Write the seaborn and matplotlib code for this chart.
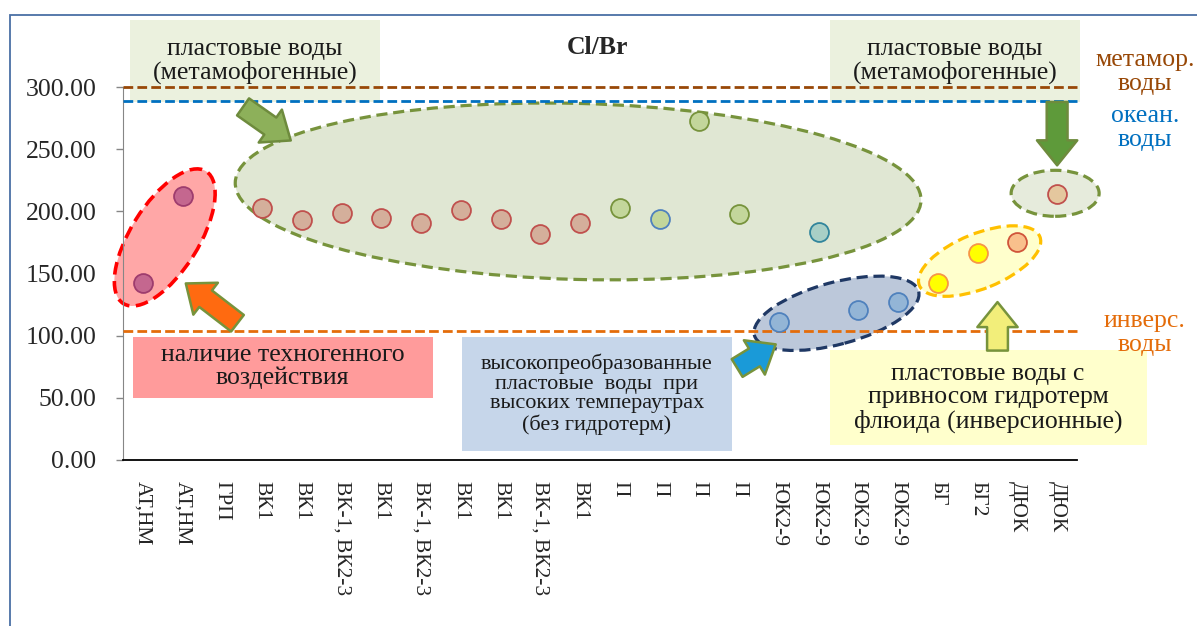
import numpy as np
import pandas as pd
import matplotlib.pyplot as plt
import matplotlib.transforms as mtransforms
from matplotlib.patches import Ellipse, Rectangle, FancyArrowPatch
import seaborn as sns

# Cl/Br по пробам
categories = ["АТ,НМ", "АТ,НМ", "ГРП", "ВК1", "ВК1", "ВК-1, ВК2-3", "ВК1", "ВК-1, ВК2-3",
              "ВК1", "ВК1", "ВК-1, ВК2-3", "ВК1", "П", "П", "П", "П",
              "ЮК2-9", "ЮК2-9", "ЮК2-9", "ЮК2-9", "БГ", "БГ2", "ДЮК", "ДЮК"]
cl_br = [142, 212, np.nan, 202.5, 193, 199, 195, 190.5, 201, 194, 182, 191,
         203, 194, 273, 198, 111, 183, 121, 127, 142, 166.5, 175, 214]
y_ticks = [0, 50, 100, 150, 200, 250, 300]
metamorphic_level = 300
ocean_level = 289
inversion_level = 104

# цвета точек (заливка / контур)
fills = ["#C4678F", "#C4678F", "#FFFFFF", "#D4AF9B", "#D4AF9B", "#D4AF9B", "#D4AF9B", "#D4AF9B",
         "#D4AF9B", "#D4AF9B", "#D4AF9B", "#D4AF9B", "#C3D69B", "#C3D69B", "#C3D69B", "#C3D69B",
         "#93B5D6", "#A8CFC6", "#93B5D6", "#93B5D6", "#FFFF00", "#FFFF00", "#F9C08C", "#E4C79E"]
edges = ["#9E3C6E", "#9E3C6E", "#FFFFFF", "#C0504D", "#C0504D", "#C0504D", "#C0504D", "#C0504D",
         "#C0504D", "#C0504D", "#C0504D", "#C0504D", "#77933C", "#4F81BD", "#77933C", "#77933C",
         "#4F81BD", "#31859C", "#4F81BD", "#4F81BD", "#F79646", "#F79646", "#D0553A", "#C0504D"]

df = pd.DataFrame({"pos": np.arange(len(categories)), "label": categories,
                   "value": cl_br, "fill": fills, "edge": edges})

sns.set_style("white")
plt.rcParams["font.family"] = ["Liberation Serif", "DejaVu Serif"]

fig = plt.figure(figsize=(11.97, 6.26), dpi=100)
ax = fig.add_axes([123 / 1197, 166 / 626, 954 / 1197, 373 / 626])

for (fc, ec), grp in df.dropna().groupby(["fill", "edge"]):
    sns.scatterplot(data=grp, x="pos", y="value", color=fc, edgecolor=ec,
                    linewidth=1.3, s=185, ax=ax, zorder=5, legend=False)

# уровни
ax.axhline(metamorphic_level, color="#984807", ls=(0, (3.5, 1.5)), lw=2, zorder=4, clip_on=False)
ax.axhline(ocean_level, color="#0070C0", ls=(0, (3.5, 1.5)), lw=2, zorder=4, clip_on=False)
ax.axhline(inversion_level, color="#E46C0A", ls=(0, (3.5, 1.5)), lw=2, zorder=4, clip_on=False)

ax.set_xlim(-0.5, len(categories) - 0.5)
ax.set_ylim(0, 300)
ax.set_yticks(y_ticks)
ax.set_yticklabels([f"{v:.2f}" for v in y_ticks], fontsize=18.5)
ax.set_xticks(df["pos"])
ax.set_xticklabels(categories, rotation=-90, fontsize=15.5, va="top", ha="center")
ax.set_xticks(np.arange(-0.5, len(categories)), minor=True)
ax.tick_params(axis="x", which="major", length=0, pad=15)
ax.tick_params(axis="x", which="minor", direction="inout", length=9, width=1.3, color="black")
ax.tick_params(axis="y", direction="out", length=5, width=1, color="#868686", pad=14, left=True)
ax.set_xlabel("")
ax.set_ylabel("")
for side in ["top", "right"]:
    ax.spines[side].set_visible(False)
ax.spines["left"].set_color("#868686")
ax.spines["bottom"].set_color("black")
ax.spines["bottom"].set_linewidth(1.3)


def blob(x, y, w, h, angle, face, edge, lw=2.3):
    tr = fig.dpi_scale_trans + mtransforms.ScaledTranslation(x, y, ax.transData)
    e = Ellipse((0, 0), w, h, angle=angle, facecolor=face, edgecolor=edge,
                linestyle=(0, (3.5, 1.8)), lw=lw, zorder=2, clip_on=False)
    e.set_transform(tr)
    ax.add_artist(e)


blob(0.55, 179, 1.56, 0.68, 58, "#FFA7A7", "#FF0000", 2.6)
blob(10.95, 216, 6.86, 1.76, -1.5, "#E0E7D3", "#77933C")
blob(22.95, 214.5, 0.88, 0.46, 0, "#E6EBDC", "#77933C")
blob(21.05, 160, 1.30, 0.55, 22, "#FFFFCC", "#FFC000")
blob(17.45, 118, 1.70, 0.62, 15, "#BCC8DA", "#1F3864")


def block_arrow(tail, tip, face, edge="#77933C"):
    a = FancyArrowPatch(tail, tip, arrowstyle="simple,head_length=1.8,head_width=2.9,tail_width=1.5",
                        mutation_scale=10, facecolor=face, edgecolor=edge, lw=1.8,
                        shrinkA=0, shrinkB=0, zorder=6, clip_on=False)
    ax.add_patch(a)


block_arrow((2.52, 284), (3.72, 257), "#8DB05A", "#6E8B3D")
block_arrow((2.38, 110), (1.08, 142), "#FF6A10")
block_arrow((14.95, 74), (15.92, 93), "#1A9AD8")
block_arrow((23.0, 288), (23.0, 237), "#5E9A3A", "#6E8B3D")
block_arrow((21.5, 88), (21.5, 127), "#F2EE7A")


def note_box(x0, x1, y0, y1, color):
    ax.add_patch(Rectangle((x0, y0), x1 - x0, y1 - y0, facecolor=color, edgecolor="none",
                           zorder=3, clip_on=False))


note_box(-0.33, 5.96, 288, 354, "#EBF1DE")
note_box(17.28, 23.57, 288, 354, "#EBF1DE")
note_box(-0.25, 7.30, 50, 99, "#FF9B9B")
note_box(8.03, 14.82, 7.5, 99, "#C6D6EA")
note_box(17.28, 25.26, 12, 88.5, "#FFFFCC")

txt = dict(ha="center", va="center", zorder=7, clip_on=False, color="#1A1A1A")
ax.text(2.82, 321, "пластовые воды\n(метамофогенные)", fontsize=18.5, linespacing=1.05, **txt)
ax.text(20.43, 321, "пластовые воды\n(метамофогенные)", fontsize=18.5, linespacing=1.05, **txt)
ax.text(3.52, 75, "наличие техногенного\nвоздействия", fontsize=18.5, linespacing=1.05, **txt)
ax.text(11.42, 53, "высокопреобразованные\nпластовые  воды  при\nвысоких температрах\n(без гидротерм)".replace("температрах", "темпераутрах"),
        fontsize=16, linespacing=1.05, **txt)
ax.text(21.26, 50, "пластовые воды с\nпривносом гидротерм\nфлюида (инверсионные)", fontsize=18.5,
        linespacing=1.08, **txt)

fig.text(597 / 1197, 1 - 48 / 626, "Cl/Br", fontsize=18.5, fontweight="bold", ha="center", va="center")
fig.text(1145 / 1197, 1 - 72 / 626, "метамор.\nводы", fontsize=18.5, color="#984807",
         ha="center", va="center", linespacing=1.1)
fig.text(1145 / 1197, 1 - 128 / 626, "океан.\nводы", fontsize=18.5, color="#0070C0",
         ha="center", va="center", linespacing=1.1)
fig.text(1145 / 1197, 1 - 333 / 626, "инверс.\nводы", fontsize=18.5, color="#E46C0A",
         ha="center", va="center", linespacing=1.1)

# рамка диаграммы
fig.add_artist(Rectangle((10 / 1197, -0.05), 1.1, 1.05 - 15 / 626, transform=fig.transFigure,
                         facecolor="none", edgecolor="#4A6FA5", lw=1.3))

fig.savefig("out.png", dpi=100)
